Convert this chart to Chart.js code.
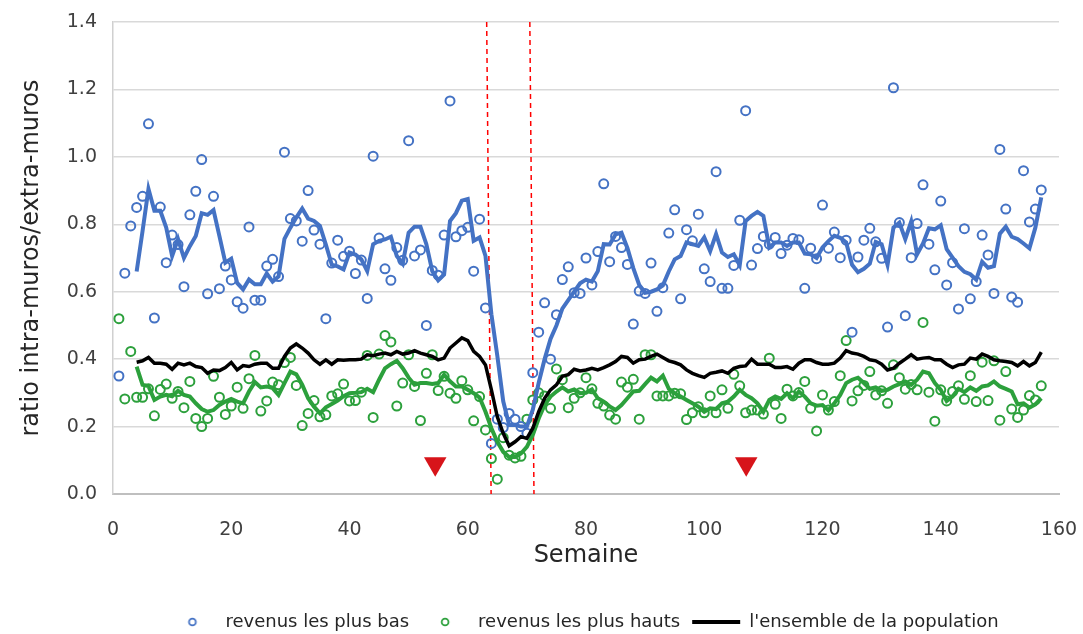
<!DOCTYPE html>
<html>
<head>
<meta charset="utf-8">
<script src="https://cdn.jsdelivr.net/npm/chart.js@4.4.1/dist/chart.umd.min.js"></script>
<style>
  html, body { margin: 0; padding: 0; background: #fff; }
  #wrap { width: 1083px; height: 634px; }
</style>
</head>
<body>
<div id="wrap"><canvas id="ratioChart"></canvas></div>
<script>
// weekly ratio, one value per week (weeks 1..157)
const lowIncome = [
  0.35, 0.655, 0.795, 0.85, 0.883, 1.098, 0.522, 0.851, 0.686, 0.768,
  0.74, 0.615, 0.828, 0.898, 0.992, 0.594, 0.883, 0.609, 0.676, 0.635,
  0.57, 0.551, 0.792, 0.575, 0.575, 0.676, 0.696, 0.645, 1.014, 0.817,
  0.81, 0.75, 0.90, 0.783, 0.741, 0.52, 0.685, 0.753, 0.705, 0.72,
  0.654, 0.694, 0.58, 1.002, 0.759, 0.668, 0.634, 0.731, 0.693, 1.048,
  0.706, 0.724, 0.50, 0.663, 0.649, 0.768, 1.166, 0.763, 0.781, 0.791,
  0.661, 0.815, 0.552, 0.15, 0.222, 0.197, 0.239, 0.222, 0.20, 0.18,
  0.36, 0.48, 0.567, 0.40, 0.532, 0.636, 0.674, 0.597, 0.595, 0.70,
  0.62, 0.719, 0.92, 0.689, 0.764, 0.731, 0.681, 0.504, 0.602, 0.595,
  0.685, 0.542, 0.612, 0.774, 0.843, 0.579, 0.784, 0.751, 0.83, 0.668,
  0.63, 0.956, 0.61, 0.61, 0.678, 0.812, 1.137, 0.679, 0.728, 0.764,
  0.741, 0.761, 0.713, 0.738, 0.758, 0.754, 0.61, 0.729, 0.698, 0.857,
  0.729, 0.777, 0.701, 0.753, 0.48, 0.703, 0.753, 0.788, 0.748, 0.699,
  0.495, 1.205, 0.805, 0.529, 0.701, 0.802, 0.917, 0.741, 0.665, 0.869,
  0.62, 0.686, 0.549, 0.787, 0.579, 0.63, 0.768, 0.709, 0.595, 1.022,
  0.845, 0.584, 0.569, 0.959, 0.807, 0.845, 0.902
];

const lowIncomeAvg = [
  null, null, null, 0.66, 0.78, 0.905, 0.84, 0.84, 0.79, 0.706,
  0.756, 0.70, 0.735, 0.765, 0.833, 0.828, 0.842, 0.765, 0.686, 0.698,
  0.626, 0.607, 0.636, 0.622, 0.622, 0.654, 0.63, 0.645, 0.757, 0.79,
  0.82, 0.847, 0.817, 0.81, 0.795, 0.74, 0.68, 0.675, 0.666, 0.716,
  0.71, 0.696, 0.661, 0.741, 0.751, 0.755, 0.763, 0.706, 0.683, 0.775,
  0.793, 0.793, 0.741, 0.661, 0.634, 0.651, 0.81, 0.833, 0.87, 0.875,
  0.751, 0.761, 0.706, 0.533, 0.41, 0.275, 0.205, 0.205, 0.20, 0.20,
  0.25, 0.33, 0.40, 0.46, 0.50, 0.55, 0.575, 0.60, 0.625, 0.636,
  0.63, 0.661, 0.741, 0.74, 0.77, 0.775, 0.73, 0.67, 0.62, 0.597,
  0.60, 0.607, 0.619, 0.66, 0.696, 0.706, 0.746, 0.741, 0.736, 0.761,
  0.72, 0.771, 0.716, 0.703, 0.711, 0.679, 0.81, 0.825, 0.837, 0.825,
  0.731, 0.746, 0.746, 0.736, 0.746, 0.746, 0.713, 0.711, 0.70, 0.731,
  0.75, 0.766, 0.76, 0.746, 0.68, 0.658, 0.668, 0.683, 0.748, 0.741,
  0.68, 0.79, 0.805, 0.756, 0.808, 0.711, 0.743, 0.788, 0.785, 0.797,
  0.726, 0.701, 0.676, 0.659, 0.652, 0.636, 0.689, 0.671, 0.676, 0.772,
  0.793, 0.763, 0.756, 0.743, 0.729, 0.79, 0.88
];

const highIncome = [
  0.52, 0.282, 0.423, 0.287, 0.287, 0.312, 0.232, 0.31, 0.326, 0.284,
  0.304, 0.256, 0.334, 0.224, 0.20, 0.224, 0.349, 0.287, 0.236, 0.261,
  0.317, 0.254, 0.342, 0.411, 0.246, 0.276, 0.332, 0.324, 0.39, 0.405,
  0.322, 0.203, 0.239, 0.277, 0.229, 0.235, 0.291, 0.297, 0.326, 0.276,
  0.277, 0.302, 0.411, 0.227, 0.415, 0.47, 0.451, 0.261, 0.329, 0.413,
  0.319, 0.218, 0.358, 0.413, 0.307, 0.349, 0.299, 0.284, 0.336, 0.309,
  0.217, 0.289, 0.19, 0.105, 0.044, 0.167, 0.115, 0.107, 0.112, 0.222,
  0.279, 0.30, 0.291, 0.254, 0.371, 0.339, 0.256, 0.284, 0.30, 0.345,
  0.312, 0.269, 0.261, 0.234, 0.222, 0.332, 0.317, 0.34, 0.222, 0.413,
  0.413, 0.291, 0.291, 0.291, 0.299, 0.297, 0.221, 0.241, 0.259, 0.241,
  0.291, 0.241, 0.309, 0.254, 0.355, 0.321, 0.241, 0.249, 0.249, 0.237,
  0.403, 0.266, 0.224, 0.311, 0.291, 0.301, 0.334, 0.254, 0.187, 0.294,
  0.249, 0.274, 0.351, 0.455, 0.276, 0.306, 0.322, 0.363, 0.294, 0.306,
  0.269, 0.383, 0.345, 0.311, 0.325, 0.309, 0.509, 0.302, 0.216, 0.309,
  0.276, 0.304, 0.321, 0.281, 0.351, 0.274, 0.391, 0.277, 0.395, 0.219,
  0.363, 0.252, 0.227, 0.249, 0.292, 0.279, 0.321
];

const highIncomeAvg = [
  null, null, null, 0.378, 0.324, 0.32, 0.279, 0.289, 0.294, 0.29,
  0.306, 0.294, 0.289, 0.269, 0.252, 0.244, 0.249, 0.264, 0.274, 0.282,
  0.274, 0.269, 0.304, 0.332, 0.316, 0.319, 0.314, 0.294, 0.329, 0.363,
  0.355, 0.324, 0.284, 0.259, 0.239, 0.257, 0.267, 0.277, 0.29, 0.299,
  0.30, 0.302, 0.312, 0.302, 0.339, 0.373, 0.385, 0.395, 0.373, 0.345,
  0.324, 0.329, 0.329, 0.326, 0.329, 0.354, 0.334, 0.319, 0.319, 0.309,
  0.299, 0.286, 0.244, 0.195, 0.155, 0.125, 0.11, 0.11, 0.12, 0.14,
  0.175, 0.224, 0.264, 0.289, 0.304, 0.316, 0.304, 0.31, 0.299, 0.30,
  0.31, 0.284, 0.274, 0.26, 0.249, 0.264, 0.284, 0.304, 0.306, 0.326,
  0.345, 0.334, 0.351, 0.312, 0.299, 0.289, 0.279, 0.269, 0.259, 0.244,
  0.254, 0.252, 0.269, 0.274, 0.289, 0.309, 0.294, 0.284, 0.269, 0.244,
  0.279, 0.289, 0.282, 0.299, 0.284, 0.304, 0.289, 0.269, 0.262, 0.264,
  0.248, 0.269, 0.294, 0.329, 0.339, 0.345, 0.329, 0.312, 0.316, 0.306,
  0.309, 0.319, 0.326, 0.334, 0.324, 0.339, 0.363, 0.358, 0.329, 0.309,
  0.276, 0.289, 0.312, 0.302, 0.316, 0.306, 0.319, 0.322, 0.334, 0.319,
  0.312, 0.304, 0.266, 0.269, 0.256, 0.266, 0.284
];

const populationAvg = [
  null, null, null, 0.391, 0.395, 0.405, 0.388, 0.388, 0.385, 0.37,
  0.388, 0.383, 0.388, 0.378, 0.375, 0.358, 0.368, 0.366, 0.375, 0.39,
  0.368, 0.381, 0.378, 0.385, 0.388, 0.388, 0.373, 0.373, 0.408, 0.433,
  0.445, 0.433, 0.418, 0.398, 0.385, 0.398, 0.385, 0.398, 0.397, 0.398,
  0.398, 0.40, 0.413, 0.41, 0.415, 0.418, 0.413, 0.423, 0.415, 0.418,
  0.425, 0.418, 0.413, 0.408, 0.398, 0.403, 0.433, 0.448, 0.463, 0.455,
  0.423, 0.408, 0.383, 0.309, 0.229, 0.18, 0.143, 0.155, 0.17, 0.165,
  0.195, 0.244, 0.284, 0.309, 0.324, 0.349, 0.354, 0.37, 0.365, 0.368,
  0.373, 0.368, 0.375, 0.383, 0.393, 0.408, 0.405, 0.388, 0.398, 0.40,
  0.408, 0.415, 0.405, 0.395, 0.39, 0.383, 0.368, 0.358, 0.351, 0.346,
  0.358, 0.361, 0.365, 0.358, 0.373, 0.378, 0.38, 0.40, 0.385, 0.385,
  0.385, 0.375, 0.375, 0.378, 0.37, 0.388, 0.398, 0.398, 0.39, 0.385,
  0.385, 0.388, 0.403, 0.425, 0.418, 0.415, 0.408, 0.398, 0.395, 0.385,
  0.368, 0.373, 0.388, 0.40, 0.413, 0.40, 0.403, 0.405, 0.398, 0.398,
  0.385, 0.375, 0.383, 0.385, 0.403, 0.40, 0.415, 0.408, 0.398, 0.395,
  0.393, 0.39, 0.38, 0.393, 0.38, 0.39, 0.421
];

// red dashed period markers: [week at top, week at bottom]
const periodLines = [[63.2, 63.95], [70.5, 71.2]];
// red triangles
const markerWeeks = [54.5, 107.1];
const markerLevel = 0.09;

const yTicks = [0, 0.2, 0.4, 0.6, 0.8, 1.0, 1.2, 1.4];
const xTicks = [0, 20, 40, 60, 80, 100, 120, 140, 160];

const BLUE = '#4472c4';
const GREEN = '#2ca03c';
const FONT = 'DejaVu Sans, Verdana, sans-serif';

function toPoints(values) {
    return values.map((v, i) => ({ x: i + 1, y: v }));
}

// small hollow circle used as legend symbol
function legendDot(color) {
    const c = document.createElement('canvas');
    c.width = 12;
    c.height = 12;
    const ctx = c.getContext('2d');
    ctx.strokeStyle = color;
    ctx.lineWidth = 1.8;
    ctx.beginPath();
    ctx.arc(6, 6, 3.4, 0, Math.PI * 2);
    ctx.stroke();
    return c;
}
const blueDot = legendDot(BLUE);
const greenDot = legendDot(GREEN);

const datasets = [
    {
        label: 'revenus les plus bas',
        data: toPoints(lowIncome),
        showLine: false,
        pointRadius: 4.5,
        pointBorderWidth: 2,
        pointBorderColor: BLUE,
        pointBackgroundColor: 'rgba(255,255,255,0)',
        borderColor: BLUE,
        backgroundColor: 'rgba(255,255,255,0)',
        order: 4
    },
    {
        label: 'revenus les plus hauts',
        data: toPoints(highIncome),
        showLine: false,
        pointRadius: 4.5,
        pointBorderWidth: 2,
        pointBorderColor: GREEN,
        pointBackgroundColor: 'rgba(255,255,255,0)',
        borderColor: GREEN,
        backgroundColor: 'rgba(255,255,255,0)',
        order: 5
    },
    {
        label: "l'ensemble de la population",
        data: toPoints(populationAvg),
        borderColor: '#000000',
        borderWidth: 3.5,
        pointRadius: 0,
        pointStyle: 'line',
        pointBorderColor: '#000000',
        pointBorderWidth: 4,
        order: 1
    },
    {
        label: 'moyenne bas',
        data: toPoints(lowIncomeAvg),
        borderColor: BLUE,
        borderWidth: 4,
        pointRadius: 0,
        order: 2
    },
    {
        label: 'moyenne hauts',
        data: toPoints(highIncomeAvg),
        borderColor: GREEN,
        borderWidth: 4,
        pointRadius: 0,
        order: 3
    }
];

periodLines.forEach((pl, i) => {
    datasets.push({
        label: 'periode ' + (i + 1),
        data: [{ x: pl[0], y: 1.4 }, { x: pl[1], y: 0 }],
        borderColor: '#ff0000',
        borderWidth: 1.5,
        borderDash: [5, 4],
        pointRadius: 0,
        order: 6
    });
});

datasets.push({
    label: 'marqueurs',
    data: markerWeeks.map(w => ({ x: w, y: markerLevel })),
    showLine: false,
    pointStyle: 'triangle',
    rotation: 180,
    pointRadius: 13,
    pointBackgroundColor: '#d7141a',
    pointBorderColor: '#d7141a',
    pointBorderWidth: 0,
    order: 0
});

// the legend sits centred under the plot area rather than the canvas
const legendShift = {
    id: 'legendShift',
    afterLayout(chart) {
        chart.legend.left += 54;
        chart.legend.right += 54;
    }
};

new Chart(document.getElementById('ratioChart'), {
    type: 'line',
    data: { datasets: datasets },
    plugins: [legendShift],
    options: {
        responsive: true,
        maintainAspectRatio: false,
        animation: false,
        events: [],
        layout: { padding: { top: 22, right: 24, bottom: -7, left: 0 } },
        scales: {
            x: {
                type: 'linear',
                min: 0,
                max: 160,
                afterBuildTicks: (scale) => { scale.ticks = xTicks.map(v => ({ value: v })); },
                afterFit: (scale) => {
                    scale.height = 107;
                    scale.paddingLeft = 0;
                    scale.paddingRight = 0;
                },
                grid: { display: false, drawTicks: false },
                border: { display: true, color: '#bfbfbf', width: 2 },
                ticks: {
                    padding: 25,
                    color: '#404040',
                    font: { family: FONT, size: 19 }
                },
                title: {
                    display: true,
                    text: 'Semaine',
                    color: '#262626',
                    padding: { top: 0, bottom: 31 },
                    font: { family: FONT, size: 24 }
                }
            },
            y: {
                min: 0,
                max: 1.4,
                afterBuildTicks: (scale) => { scale.ticks = yTicks.map(v => ({ value: v })); },
                afterFit: (scale) => {
                    scale.width = 113;
                    scale.paddingTop = 0;
                    scale.paddingBottom = 0;
                },
                grid: { color: '#d9d9d9', lineWidth: 1.5, drawTicks: false },
                border: { display: true, color: '#d0d0d0', width: 1.5 },
                ticks: {
                    padding: 16,
                    color: '#404040',
                    font: { family: FONT, size: 19 },
                    callback: (v) => v.toFixed(1)
                },
                title: {
                    display: true,
                    text: 'ratio intra-muros/extra-muros',
                    color: '#262626',
                    padding: { top: 17, bottom: 0 },
                    font: { family: FONT, size: 24 }
                }
            }
        },
        plugins: {
            tooltip: { enabled: false },
            legend: {
                position: 'bottom',
                labels: {
                    sort: (a, b) => a.datasetIndex - b.datasetIndex,
                    filter: (item) => item.datasetIndex < 3,
                    generateLabels: (chart) => {
                        const items = Chart.defaults.plugins.legend.labels.generateLabels(chart);
                        items.forEach(it => {
                            if (it.datasetIndex === 0) it.pointStyle = blueDot;
                            if (it.datasetIndex === 1) it.pointStyle = greenDot;
                        });
                        return items;
                    },
                    usePointStyle: true,
                    pointStyleWidth: 48,
                    boxHeight: 6,
                    padding: 12,
                    color: '#262626',
                    font: { family: FONT, size: 18 }
                }
            }
        }
    }
});
</script>
</body>
</html>
